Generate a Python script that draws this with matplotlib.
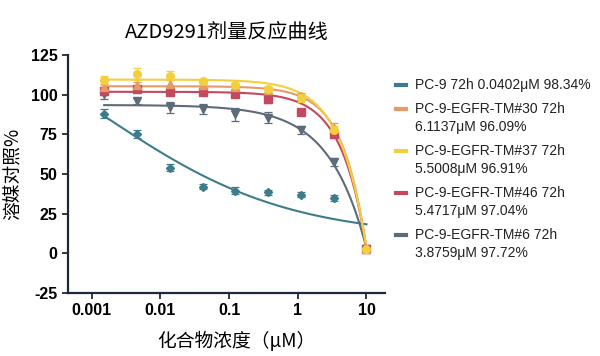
import numpy as np
import matplotlib
matplotlib.use("Agg")
import matplotlib.pyplot as plt
from matplotlib.lines import Line2D

plt.rcParams['font.family'] = ['Liberation Sans', 'Noto Sans CJK SC', 'DejaVu Sans']
plt.rcParams['axes.unicode_minus'] = False

# 3倍稀释浓度 (μM)
conc = [0.00152, 0.00457, 0.0137, 0.0412, 0.123, 0.370, 1.11, 3.33, 10.0]

labels = ["PC-9 72h 0.0402μM 98.34%",
          "PC-9-EGFR-TM#30 72h\n6.1137μM 96.09%",
          "PC-9-EGFR-TM#37 72h\n5.5008μM 96.91%",
          "PC-9-EGFR-TM#46 72h\n5.4717μM 97.04%",
          "PC-9-EGFR-TM#6 72h\n3.8759μM 97.72%"]
colors = ["#3e7c8c", "#e59a67", "#f2cf3d", "#c34a5e", "#5e6b7a"]
markers = ["D", "^", "o", "s", "v"]

# 平均值
pc9   = [88, 75, 54, 42, 39.5, 38.5, 37, 35, 3]
tm30  = [105, 106, 107, 106, 105, 103, 99, 79, 3]
tm37  = [109, 113, 112, 108.5, 106, 103.5, 98, 77.5, 3]
tm46  = [102, 103.5, 101.5, 101.5, 100.5, 97.5, 89, 75, 3]
tm6   = [100.5, 96, 92, 91, 87.5, 85.5, 78, 57.5, 3]
values = [pc9, tm30, tm37, tm46, tm6]

# 误差
err_pc9  = [3, 2.5, 2, 1.5, 2, 1.5, 1.5, 2, 0.5]
err_tm30 = [2, 2, 2, 1.5, 1.5, 2, 2, 3, 0.5]
err_tm37 = [3, 4, 3, 1.5, 1.5, 2, 2.5, 2.5, 0.5]
err_tm46 = [2, 2, 1.5, 2, 2, 2.5, 2, 2, 0.5]
err_tm6  = [3, 2, 3.5, 3, 4, 3.5, 2.5, 2.5, 0.5]
errors = [err_pc9, err_tm30, err_tm37, err_tm46, err_tm6]

# 拟合曲线参数
# PC-9: 四参数  bottom, top, logIC50, hill
pc9_fit = [10, 162, -2.8, 0.326]
# 其余: top - k * x**h
tm_fit = [[105.3, 5.75, 1.25],
          [109.5, 7.72, 1.14],
          [101.8, 6.45, 1.185],
          [93.5, 14.3, 0.8]]

W, H = 600, 356
fig = plt.figure(figsize=(W / 100, H / 100), dpi=100)
ax = fig.add_axes([0.1133, 0.177, 0.5284, 0.6685])

xs = np.logspace(np.log10(conc[0]), np.log10(conc[-1]), 300)
b, t, c, h = pc9_fit
curves = [b + (t - b) / (1 + (xs / 10**c)**h)]
for top, k, hh in tm_fit:
    curves.append(top - k * xs**hh)

draw_order = [0, 4, 3, 1, 2]
for i in draw_order:
    ax.plot(xs, curves[i], color=colors[i], lw=1.5, zorder=2)
    ax.errorbar(conc, values[i], yerr=errors[i], fmt=markers[i], color=colors[i],
                ms=5.5 if markers[i] != "D" else 4.2, elinewidth=0.9, capsize=3,
                capthick=0.9, zorder=3)

ax.set_xscale("log")
ax.set_xlim(10**-3.345, 10**1.27)
ax.set_ylim(-25, 125)
ax.set_yticks([-25, 0, 25, 50, 75, 100, 125])
ax.set_xticks([0.001, 0.01, 0.1, 1, 10])
ax.set_xticklabels(["0.001", "0.01", "0.1", "1", "10"])
ax.minorticks_off()

for s in ["top", "right"]:
    ax.spines[s].set_visible(False)
for s in ["left", "bottom"]:
    ax.spines[s].set_color("#1c2a3a")
    ax.spines[s].set_linewidth(1.6)
ax.tick_params(colors="#1c2a3a", width=1.3, length=4, labelsize=11.5)
for lab in ax.get_xticklabels() + ax.get_yticklabels():
    lab.set_fontweight("bold")
    lab.set_color("black")

cjk = ["Noto Sans CJK SC", "DejaVu Sans"]
ax.set_ylabel("溶媒对照%", fontsize=13.5, family=cjk, labelpad=5)
ax.set_xlabel("化合物浓度（μM）", fontsize=13.5, family=cjk, labelpad=7)
ax.xaxis.set_label_coords(0.53, -0.16)
ax.set_title("AZD9291剂量反应曲线", fontsize=14.5, family=cjk, pad=12)

# 图例: 色块与第一行文字对齐
y = 85
for i, lab in enumerate(labels):
    fig.add_artist(Line2D([396 / W, 406 / W], [1 - y / H, 1 - y / H],
                          color=colors[i], lw=3, transform=fig.transFigure))
    lines = lab.split("\n")
    for j, ln in enumerate(lines):
        fig.text(415 / W, 1 - (y + 18 * j) / H, ln, fontsize=10,
                 va="center", ha="left", color="#222222")
    y += 18 * (len(lines) - 1) + 24

fig.savefig("out.png", dpi=100)
